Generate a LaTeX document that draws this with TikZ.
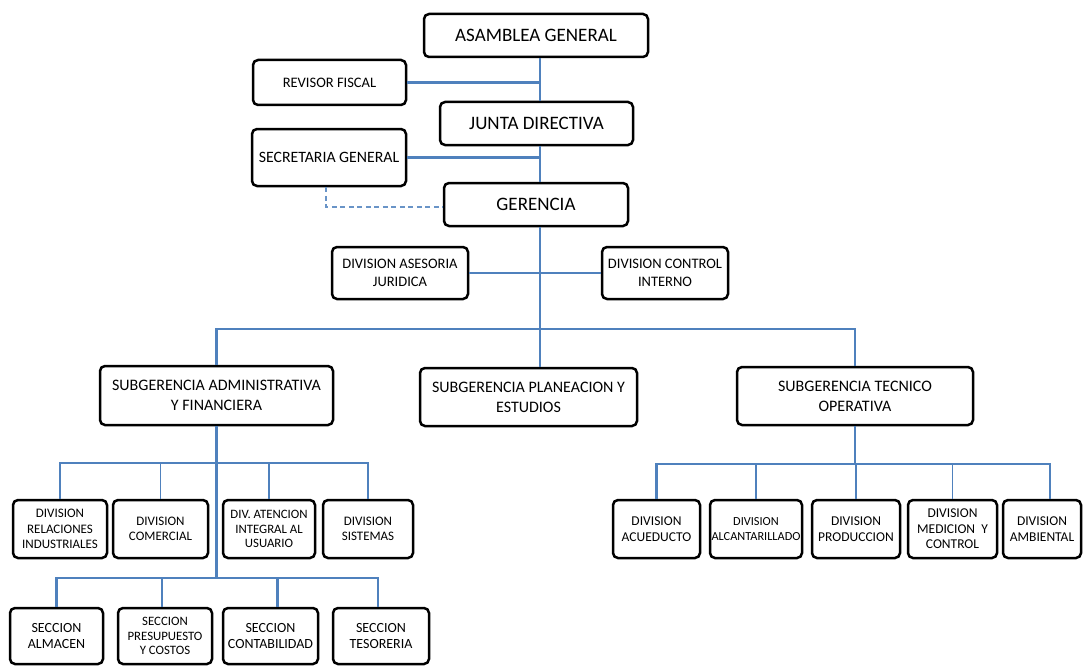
\documentclass[tikz,border=0pt]{standalone}
\usepackage{fontspec}
\setmainfont{Carlito}
\definecolor{lineblue}{RGB}{79,129,189}
\tikzset{
  box/.style={draw=black, line width=2.5pt, rounded corners=5pt, fill=white, align=center, inner sep=0pt},
  bx/.style 2 args={box, minimum width=#1pt, minimum height=#2pt},
  conn/.style={draw=lineblue, line width=2.8pt},
  thinconn/.style={draw=lineblue, line width=1.2pt},
  dconn/.style={draw=lineblue!85, line width=1.3pt, dash pattern=on 5pt off 3.5pt},
  fA/.style={font=\fontsize{19}{22}\selectfont},
  fB/.style={font=\fontsize{14.5}{18}\selectfont},
  fB2/.style={font=\fontsize{15.8}{18}\selectfont},
  fC/.style={font=\fontsize{14.5}{18}\selectfont},
  fD/.style={font=\fontsize{16}{20}\selectfont},
  fE/.style={font=\fontsize{13}{15.5}\selectfont},
  fS/.style={font=\fontsize{14}{16}\selectfont},
  fR/.style={font=\fontsize{13.5}{15.5}\selectfont},
  fF/.style={font=\fontsize{12.8}{14.5}\selectfont},
  fG/.style={font=\fontsize{12.3}{15.5}\selectfont},
}
\begin{document}
\begin{tikzpicture}[x=1pt,y=-1pt]
\useasboundingbox (0,0) rectangle (1083,666);
% top levels
\node[bx={224}{43}, fA] (asamblea) at (536,35.5) {ASAMBLEA GENERAL};
\node[bx={153}{45}, fB] (revisor) at (329.5,82.5) {REVISOR FISCAL};
\node[bx={193}{43}, fA] (junta) at (536.5,123.5) {JUNTA DIRECTIVA};
\node[bx={154}{57}, fB2] (secretaria) at (329,157.5) {SECRETARIA GENERAL};
\node[bx={184}{43}, fA] (gerencia) at (536,204.5) {GERENCIA};
\node[bx={136}{52}, fC] (asesoria) at (400,273) {DIVISION ASESORIA\\JURIDICA};
\node[bx={126}{52}, fC] (control) at (665,273) {DIVISION CONTROL\\INTERNO};
% subgerencias
\node[bx={233}{59}, fD] (admin) at (216.5,395.5) {SUBGERENCIA ADMINISTRATIVA\\Y FINANCIERA};
\node[bx={217}{58}, fD] (planeacion) at (528.5,397) {SUBGERENCIA PLANEACION Y\\ESTUDIOS};
\node[bx={236}{58}, fD] (tecnico) at (855,396) {SUBGERENCIA TECNICO\\OPERATIVA};
% admin divisions
\node[bx={94}{58}, fE] (rel) at (60,529) {DIVISION\\RELACIONES\\INDUSTRIALES};
\node[bx={95}{58}, fE] (com) at (160.5,529) {DIVISION\\COMERCIAL};
\node[bx={92}{58}, fF] (aten) at (269,529) {DIV. ATENCION\\INTEGRAL AL\\USUARIO};
\node[bx={90}{58}, fE] (sis) at (368,529) {DIVISION\\SISTEMAS};
% secciones
\node[bx={93}{56}, fS] (alm) at (56.5,636) {SECCION\\ALMACEN};
\node[bx={94}{56}, fF] (pres) at (165,636) {SECCION\\PRESUPUESTO\\Y COSTOS};
\node[bx={95}{56}, fS] (cont) at (270.5,636) {SECCION\\CONTABILIDAD};
\node[bx={96}{56}, fS] (tes) at (381,636) {SECCION\\TESORERIA};
% tecnico divisions
\node[bx={87}{58}, fR] (acu) at (656.5,529) {DIVISION\\ACUEDUCTO};
\node[bx={92}{58}, fG] (alc) at (756,529) {DIVISION\\ALCANTARILLADO};
\node[bx={88}{58}, fR] (prod) at (856,529) {DIVISION\\PRODUCCION};
\node[bx={89}{58}, fR] (med) at (952.5,529) {DIVISION\\MEDICION\ \ Y\\CONTROL};
\node[bx={78}{58}, fR] (amb) at (1042,529) {DIVISION\\AMBIENTAL};
% helper coordinates
\coordinate (spine) at (540,0);
\coordinate (dashx) at (326,0);
\coordinate (dashy) at (0,207);
\coordinate (bus1) at (0,329);
\coordinate (bus2) at (0,463);
\coordinate (bus3) at (0,578);
\coordinate (bus4) at (0,464);
% spine
\draw[conn] (spine |- asamblea.south) -- (spine |- junta.north);
\draw[conn] (spine |- junta.south) -- (spine |- gerencia.north);
\draw[conn] (spine |- gerencia.south) -- (spine |- planeacion.north);
\draw[conn] (revisor.east) -- (revisor.east -| spine);
\draw[conn] (secretaria.east) -- (secretaria.east -| spine);
\draw[dconn] (dashx |- secretaria.south) -- (dashx |- dashy) -- (gerencia.west |- dashy);
\draw[conn] (asesoria.east) -- (asesoria.east -| spine);
\draw[conn] (control.west) -- (control.west -| spine);
\draw[conn] (admin.north) -- (admin.north |- bus1) -- (tecnico.north |- bus1) -- (tecnico.north);
% admin branch
\draw[conn] (admin.south) -- (admin.south |- bus3);
\draw[conn] (rel.north) -- (rel.north |- bus2) -- (sis.north |- bus2) -- (sis.north);
\draw[thinconn] (com.north) -- (com.north |- bus2);
\draw[thinconn] (aten.north) -- (aten.north |- bus2);
\draw[conn] (alm.north) -- (alm.north |- bus3) -- ([xshift=-3pt]tes.north |- bus3) -- ([xshift=-3pt]tes.north);
\draw[conn] ([xshift=-3pt]pres.north) -- ([xshift=-3pt]pres.north |- bus3);
\draw[conn] ([xshift=7pt]cont.north) -- ([xshift=7pt]cont.north |- bus3);
% tecnico branch
\draw[thinconn] (tecnico.south) -- (tecnico.south |- bus4);
\draw[conn] (acu.north) -- (acu.north |- bus4) -- ([xshift=8pt]amb.north |- bus4) -- ([xshift=8pt]amb.north);
\draw[thinconn] (alc.north) -- (alc.north |- bus4);
\draw[thinconn] (prod.north) -- (prod.north |- bus4);
\draw[thinconn] (med.north) -- (med.north |- bus4);
\end{tikzpicture}
\end{document}
